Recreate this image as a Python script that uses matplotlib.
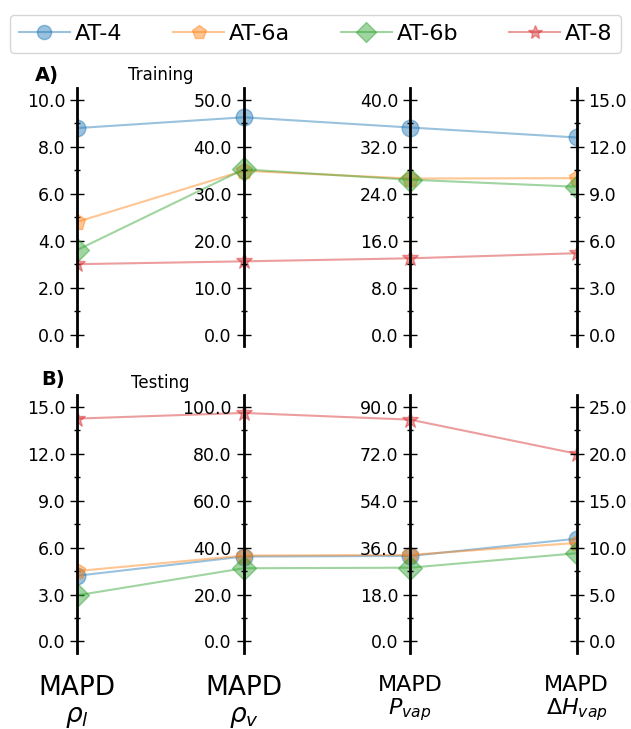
import numpy as np
import matplotlib
matplotlib.use("Agg")
import matplotlib.pyplot as plt
from matplotlib.ticker import FormatStrFormatter

models = ["AT-4", "AT-6a", "AT-6b", "AT-8"]
markers = ["o", "p", "D", "*"]
colors = ["tab:blue", "tab:orange", "tab:green", "tab:red"]
props = ["MAPD\n" + r"$\rho_l$", "MAPD\n" + r"$\rho_v$",
         "MAPD\n" + r"$P_{vap}$", "MAPD\n" + r"$\Delta H_{vap}$"]

# rows = models, columns = properties
train = np.array([[8.8, 46.3, 35.3, 12.6],
                  [4.8, 34.9, 26.6, 10.0],
                  [3.6, 35.2, 26.4, 9.45],
                  [3.0, 15.6, 13.0, 5.2]])
test = np.array([[4.2, 36.2, 32.8, 10.95],
                 [4.5, 36.6, 33.2, 10.5],
                 [2.95, 31.2, 28.3, 9.4],
                 [14.25, 97.4, 85.1, 20.0]])

train_max = [10, 50, 40, 15]
test_max = [15, 100, 90, 25]


def panel(rect, data, ymax, show_x):
    host = fig.add_axes(rect)
    n = data.shape[1]
    ymins = np.zeros(n)
    ymaxs = np.array(ymax, dtype=float)
    dys = ymaxs - ymins
    lo = ymins - 0.05 * dys
    hi = ymaxs + 0.05 * dys
    # scale everything to the first axis
    z = np.zeros_like(data)
    z[:, 0] = data[:, 0]
    z[:, 1:] = (data[:, 1:] - lo[1:]) / (hi[1:] - lo[1:]) * (hi[0] - lo[0]) + lo[0]

    axes = [host] + [host.twinx() for i in range(n - 1)]
    for i, ax in enumerate(axes):
        ax.set_ylim(lo[i], hi[i])
        for s in ["top", "bottom", "left", "right"]:
            ax.spines[s].set_visible(False)
        ax.yaxis.set_ticks(np.linspace(0, ymaxs[i], 6))
        ax.yaxis.set_ticks(np.linspace(0, ymaxs[i], 11), minor=True)
        ax.yaxis.set_major_formatter(FormatStrFormatter("%.1f"))
        ax.tick_params(axis="y", which="major", direction="inout", length=10,
                       width=1, labelsize=12.5)
        ax.tick_params(axis="y", which="minor", direction="inout", length=5, width=1)
        if i < n - 1:
            side = "left"
            ax.yaxis.set_ticks_position("left")
            ax.yaxis.set_label_position("left")
        else:
            side = "right"
            ax.yaxis.set_ticks_position("right")
        ax.spines[side].set_visible(True)
        ax.spines[side].set_linewidth(2)
        ax.spines[side].set_position(("axes", i / (n - 1)))

    host.set_xlim(0, n - 1)
    host.set_xticks(range(n))
    if show_x:
        host.set_xticklabels(props, linespacing=1.05)
        host.tick_params(axis="x", which="major", length=0, pad=16)
        for k, lab in enumerate(host.get_xticklabels()):
            lab.set_fontsize(19 if k < 2 else 16)
    else:
        host.set_xticklabels([])
        host.tick_params(axis="x", length=0)

    lines = []
    for j in range(data.shape[0]):
        ln, = host.plot(range(n), z[j], color=colors[j], marker=markers[j],
                        markersize=12, lw=1.5, alpha=0.45, label=models[j])
        ln.set_clip_path(host.patch)  # markers cut at the outer axes
        lines.append(ln)
    return lines


fig = plt.figure(figsize=(6.31, 7.29), dpi=100)
handles = panel([0.122, 0.525, 0.792, 0.354], train, train_max, False)
panel([0.122, 0.104, 0.792, 0.354], test, test_max, True)

fig.text(0.055, 0.897, "A)", fontsize=14, fontweight="bold", va="center")
fig.text(0.254, 0.897, "Training", fontsize=12, ha="center", va="center")
fig.text(0.066, 0.479, "B)", fontsize=14, fontweight="bold", va="center")
fig.text(0.254, 0.474, "Testing", fontsize=12, ha="center", va="center")

fig.legend(handles=handles, loc="upper center", bbox_to_anchor=(0.5, 0.995),
           ncol=4, fontsize=16, columnspacing=2.3, handletextpad=0.2,
           handlelength=2.3, markerscale=0.85)

fig.savefig("out.png", dpi=100)
